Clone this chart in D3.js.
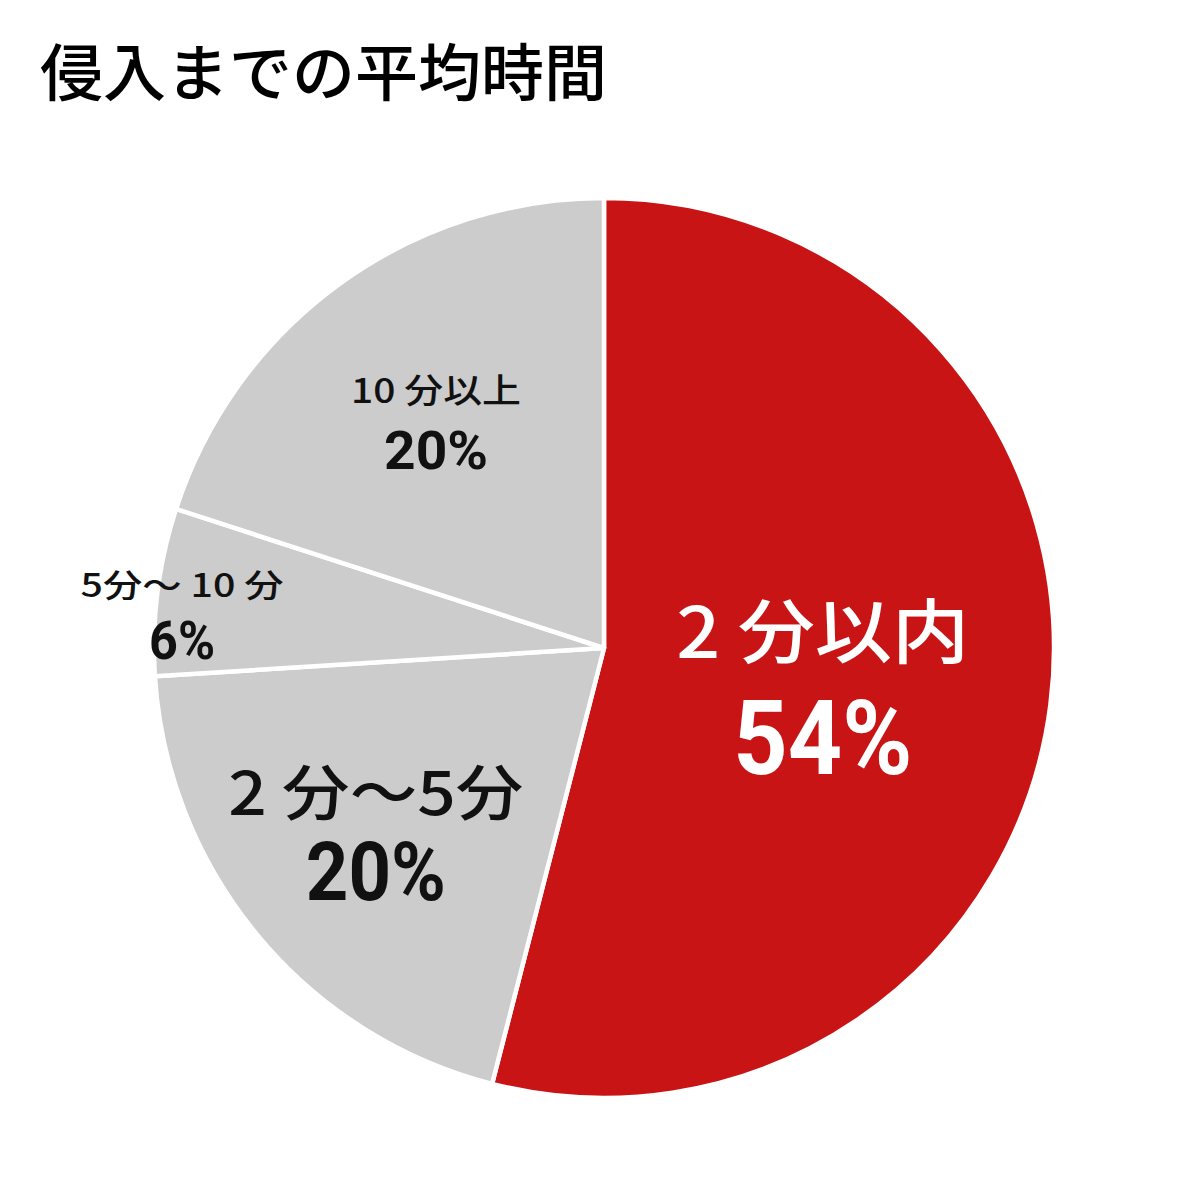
<!DOCTYPE html>
<html>
<head>
    <meta charset="utf-8">
    <script src="https://d3js.org/d3.v7.min.js"></script>
    <style>
        body { margin: 0; background: #fff; }
        .title { font-family: "Noto Sans CJK JP", sans-serif; font-weight: 500; font-size: 62px; }
        .name { font-family: "Noto Sans CJK JP", sans-serif; font-weight: 500; }
        .pct { font-family: "Roboto", "Noto Sans", sans-serif; font-weight: 700; }
    </style>
</head>
<body>
    <svg width="1200" height="1200"></svg>

    <script>
        const width = 1200, height = 1200;
        const svg = d3.select("svg");

        // data
        const categories = ["2 分以内", "2 分〜5分", "5分〜 10 分", "10 分以上"];
        const values = [54, 20, 6, 20];
        const colors = ["#c81414", "#cccccc", "#cccccc", "#cccccc"];
        const textColors = ["#ffffff", "#111111", "#111111", "#111111"];

        // label layout per slice (radius fraction, font sizes, baseline offsets, text widths)
        const labelLayout = [
            { r: 0.49, nameSize: 70, pctSize: 104, nameDy: -18, pctDy: 98, nameW: 293, pctW: 179 },
            { r: 0.658, nameSize: 60, pctSize: 82, nameDy: -22, pctDy: 63, nameW: 295, pctW: 140 },
            { r: 0.945, nameSize: 32, pctSize: 54, nameDy: 2, pctDy: 64, nameW: 203, pctW: 66 },
            { r: 0.635, nameSize: 34, pctSize: 54, nameDy: -14, pctDy: 52, nameW: 170, pctW: 104 }
        ];

        const cx = 604, cy = 648, radius = 450;

        svg.append("text")
            .attr("class", "title")
            .attr("x", 40)
            .attr("y", 96)
            .attr("textLength", 567)
            .attr("lengthAdjust", "spacingAndGlyphs")
            .text("侵入までの平均時間");

        const pie = d3.pie().sort(null).value(d => d)(values);
        const arc = d3.arc().innerRadius(0).outerRadius(radius);

        const g = svg.append("g").attr("transform", `translate(${cx}, ${cy})`);

        g.selectAll("path")
            .data(pie)
            .enter().append("path")
            .attr("d", arc)
            .attr("fill", (d, i) => colors[i])
            .attr("stroke", "#fff")
            .attr("stroke-width", 4.5)
            .attr("stroke-linejoin", "round");

        const labels = g.selectAll("g.label")
            .data(pie)
            .enter().append("g")
            .attr("class", "label")
            .attr("transform", (d, i) => {
                const lr = labelLayout[i].r * radius;
                const c = d3.arc().innerRadius(lr).outerRadius(lr).centroid(d);
                return `translate(${c[0]}, ${c[1]})`;
            });

        labels.append("text")
            .attr("class", "name")
            .attr("text-anchor", "middle")
            .attr("y", (d, i) => labelLayout[i].nameDy)
            .attr("font-size", (d, i) => labelLayout[i].nameSize)
            .attr("textLength", (d, i) => labelLayout[i].nameW)
            .attr("lengthAdjust", "spacingAndGlyphs")
            .attr("fill", (d, i) => textColors[i])
            .text((d, i) => categories[i]);

        labels.append("text")
            .attr("class", "pct")
            .attr("text-anchor", "middle")
            .attr("y", (d, i) => labelLayout[i].pctDy)
            .attr("font-size", (d, i) => labelLayout[i].pctSize)
            .attr("textLength", (d, i) => labelLayout[i].pctW)
            .attr("lengthAdjust", "spacingAndGlyphs")
            .attr("fill", (d, i) => textColors[i])
            .text(d => d.data + "%");
    </script>
</body>
</html>
